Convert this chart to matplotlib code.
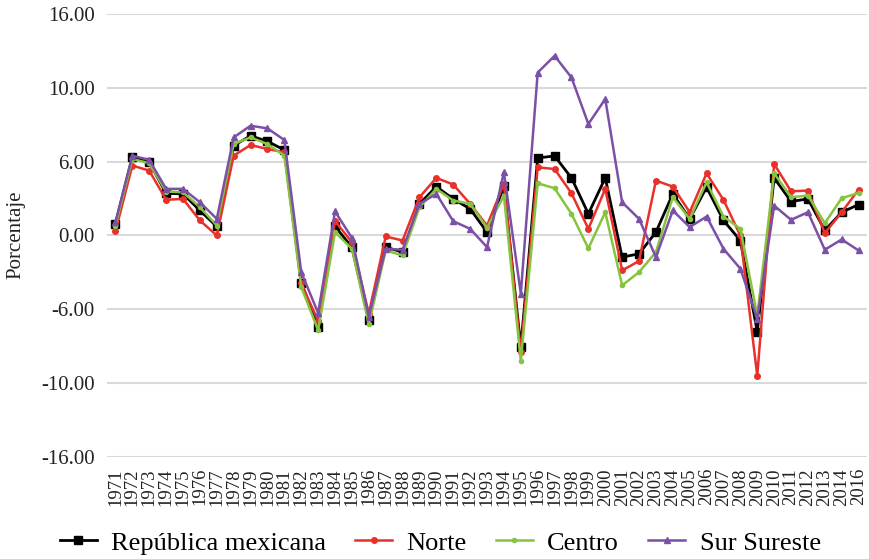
import numpy as np
import matplotlib
matplotlib.use("Agg")
import matplotlib.pyplot as plt

# Data (crecimiento anual)
# ---------------------------------------
# the source chart skips 2015 on its axis
years = [str(y) for y in range(1971, 2015)] + ['2016']

rep = [0.95, 6.35, 5.95, 3.43, 3.38, 2.03, 0.73, 7.3, 8.1, 7.65, 6.95, -3.84,
       -7.4, 0.73, -0.95, -6.9, -0.95, -1.35, 2.57, 3.97, 2.97, 2.16, 0.27, 4.0, -9.06,
       6.3, 6.46, 4.68, 1.76, 4.68,
       -1.76, -1.49, 0.27, 3.38, 1.35, 3.92, 1.22, -0.41, -7.84, 4.68, 2.76, 2.97, 0.41, 1.89, 2.51]
norte = [0.35, 5.68, 5.27, 2.9, 2.97, 1.22, 0.0, 6.49, 7.35, 7.03, 6.76, -3.9,
         -6.95, 1.16, -0.54, -6.35, -0.08, -0.41, 3.11, 4.68, 4.14, 2.57, 0.81, 4.19, -9.5,
         5.54, 5.4, 3.43, 0.54, 3.79,
         -2.84, -2.08, 4.46, 3.97, 1.89, 5.05, 2.89, 0.0, -11.41, 5.81, 3.59, 3.65, 0.19, 1.89, 3.73]
centro = [0.81, 6.22, 5.87, 3.57, 3.51, 2.3, 0.81, 7.43, 7.97, 7.43, 6.49, -4.19,
          -7.7, 0.27, -1.08, -7.2, -1.22, -1.62, 2.3, 3.79, 2.84, 2.57, 0.62, 3.24, -10.2,
          4.24, 3.84, 1.76, -1.05, 1.89,
          -4.05, -2.98, -1.35, 3.11, 1.35, 4.32, 1.54, 0.54, -6.49, 5.05, 3.11, 3.24, 1.0, 3.03, 3.46]
sur = [1.08, 6.49, 6.14, 3.79, 3.79, 2.7, 1.35, 7.97, 8.92, 8.7, 7.76, -2.98,
       -6.3, 1.95, -0.19, -6.6, -1.08, -1.16, 2.57, 3.38, 1.16, 0.54, -0.95, 5.14, -4.73,
       13.24, 14.6, 12.84, 9.06, 11.09,
       2.7, 1.35, -1.76, 2.03, 0.68, 1.54, -1.08, -2.7, -6.76, 2.43, 1.27, 1.89, -1.16, -0.32, -1.22]

ytick_labels = ['-16.00', '-10.00', '-6.00', '0.00', '6.00', '10.00', '16.00']

# Plot
# ---------------------------------------
plt.rcParams['font.family'] = ['Liberation Serif', 'DejaVu Serif']

fig = plt.figure(figsize=(8.7, 5.59), dpi=100)
ax = fig.add_axes([0.123, 0.1825, 0.8736, 0.7925])

x = np.arange(len(years))
ax.plot(x, rep, color='black', lw=2.0, marker='s', ms=6, label='República mexicana', zorder=3)
ax.plot(x, norte, color='#E8312B', lw=1.8, marker='o', ms=4, label='Norte', zorder=4)
ax.plot(x, centro, color='#86C440', lw=1.8, marker='o', ms=3, label='Centro', zorder=5)
ax.plot(x, sur, color='#7B50A6', lw=1.8, marker='^', ms=4.5, label='Sur Sureste', zorder=6)

ax.set_ylim(-18, 18)
ax.set_yticks(np.arange(-18, 19, 6))
ax.set_yticklabels(ytick_labels, fontsize=15)
ax.set_xlim(-0.5, len(years) - 0.5)
ax.set_xticks(x)
ax.set_xticklabels(years, rotation=90, fontsize=13.5)
ax.tick_params(length=0, colors='#222222')
ax.tick_params(axis='y', pad=9)
ax.tick_params(axis='x', pad=8)
ax.grid(axis='y', color='#D9D9D9', lw=1.5, zorder=0)
ax.set_axisbelow(True)
for s in ax.spines.values():
    s.set_visible(False)

fig.text(0.018, 0.58, 'Porcentaje', rotation=90, va='center', ha='center', fontsize=15, color='#222222')

fig.legend(loc='center', bbox_to_anchor=(0.506, 0.029), ncol=4, frameon=False, fontsize=19,
           handlelength=1.4, columnspacing=1.1, handletextpad=0.55, borderaxespad=0)

fig.savefig('out.png', dpi=100)
